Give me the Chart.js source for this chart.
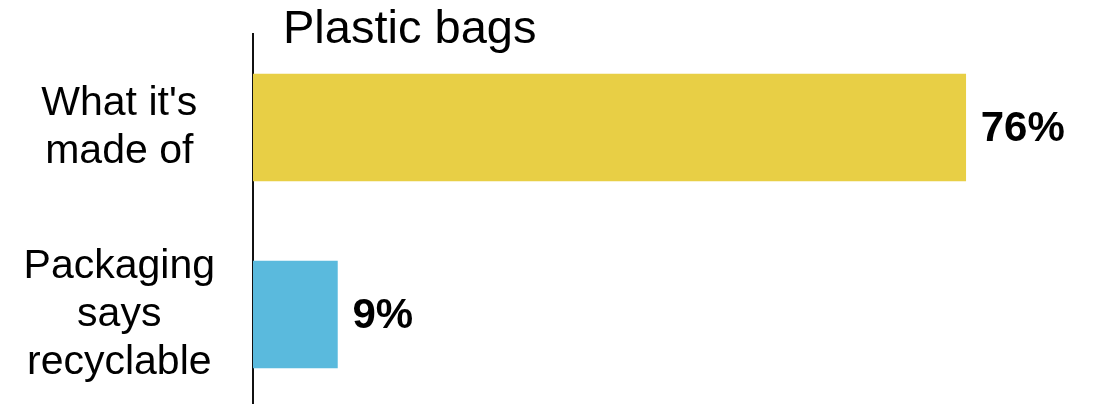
<!DOCTYPE html>
<html>
<head>
<meta charset="utf-8">
<script src="https://cdn.jsdelivr.net/npm/chart.js@4/dist/chart.umd.min.js"></script>
<style>
  html, body { margin: 0; padding: 0; background: #fff; overflow: hidden; }
  #wrap { width: 1097px; height: 408px; position: relative; }
</style>
</head>
<body>
<div id="wrap"><canvas id="grafico"></canvas></div>
<script>
const titulo = 'Plastic bags';
const categorias = [
  ["What it's", 'made of'],
  ['Packaging', 'says', 'recyclable']
];
const valores = [76, 9];
const colores = ['#E8CF45', '#5ABADD'];

const fuente = "'Liberation Sans', Arial, sans-serif";

// titulo y etiquetas de valor dibujados a mano
const extras = {
  id: 'extras',
  afterDatasetsDraw(chart) {
    const ctx = chart.ctx;
    const area = chart.chartArea;
    ctx.save();
    ctx.fillStyle = '#000';
    ctx.font = '47px ' + fuente;
    ctx.textAlign = 'left';
    ctx.textBaseline = 'alphabetic';
    ctx.fillText(titulo, area.left + 30, 43);

    ctx.font = 'bold 42px ' + fuente;
    ctx.textBaseline = 'middle';
    chart.getDatasetMeta(0).data.forEach((bar, i) => {
      ctx.fillText(valores[i] + '%', bar.x + 15, bar.y + 2);
    });
    ctx.restore();
  }
};

new Chart(document.getElementById('grafico'), {
  type: 'bar',
  data: {
    labels: categorias,
    datasets: [{
      data: valores,
      backgroundColor: colores,
      borderWidth: 0,
      barThickness: 107
    }]
  },
  options: {
    indexAxis: 'y',
    responsive: true,
    maintainAspectRatio: false,
    animation: false,
    layout: { padding: { top: 34, right: 0, bottom: 0, left: 0 } },
    plugins: {
      legend: { display: false },
      tooltip: { enabled: false }
    },
    scales: {
      x: {
        display: false,
        min: 0,
        max: 90
      },
      y: {
        grid: { display: false, drawTicks: false },
        border: { display: true, color: '#111', width: 2 },
        ticks: {
          color: '#000',
          padding: 38,
          crossAlign: 'center',
          font: { family: fuente, size: 41, lineHeight: 1.17 }
        },
        afterFit(scale) {
          scale.width = 253;
          scale.paddingTop = 0;
          scale.paddingBottom = 0;
        }
      }
    }
  },
  plugins: [extras]
});
</script>
</body>
</html>
